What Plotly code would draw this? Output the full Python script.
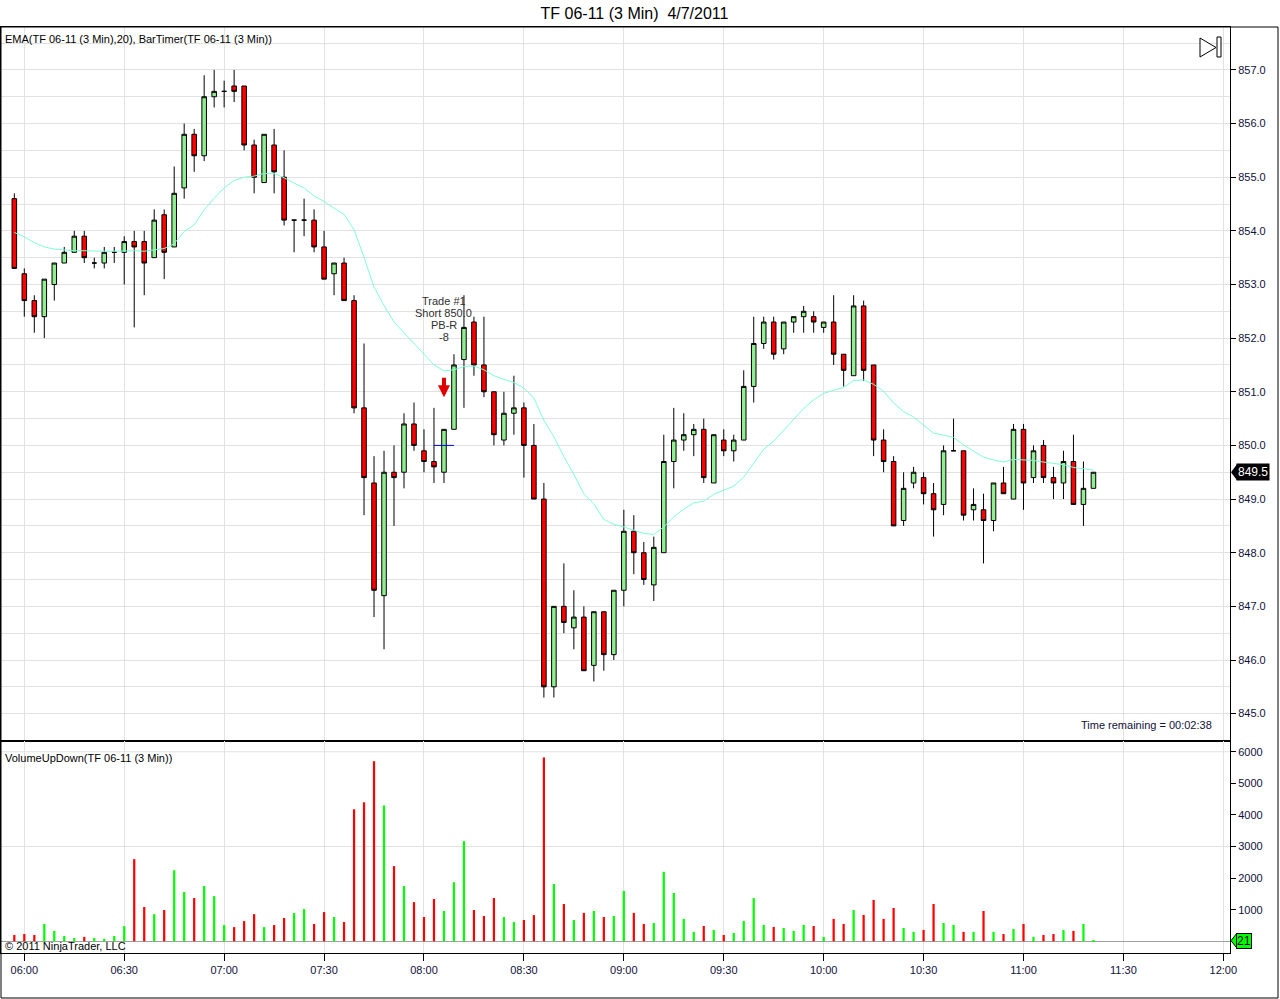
import pandas as pd
import plotly.graph_objects as go

title = 'TF 06-11 (3 Min)  4/7/2011'
first_bar = '2011-04-07 05:57'

# 3 min bars
open_ = [854.6, 853.2, 852.7, 852.4, 853.0, 853.4, 853.6, 853.9, 853.4, 853.4,
         853.6, 853.6, 853.8, 853.8, 853.5, 854.3, 853.7, 854.8, 855.8, 855.4,
         856.5, 856.6, 856.7, 856.7, 855.6, 854.9, 855.6, 855.0, 854.2, 854.2,
         854.2, 853.7, 853.2, 853.4, 852.7, 850.7, 849.3, 847.2, 849.5, 849.5,
         850.4, 849.9, 849.7, 849.5, 850.3, 851.6, 852.3, 851.5, 851.0, 850.1,
         850.6, 850.7, 850.0, 849.0, 845.5, 847.0, 846.6, 846.8, 845.9, 846.9,
         846.1, 847.3, 848.4, 848.0, 847.4, 848.0, 849.7, 850.1, 850.2, 850.3,
         849.3, 850.1, 849.9, 850.1, 851.1, 851.9, 852.3, 851.8, 852.3, 852.4,
         852.4, 852.2, 852.3, 851.7, 851.3, 852.6, 851.5, 850.1, 849.7, 848.6,
         849.3, 849.4, 849.1, 848.9, 849.9, 849.9, 848.8, 848.8, 848.6, 849.3,
         849.0, 850.3, 849.4, 850.0, 849.4, 849.3, 849.7, 848.9, 849.2]
high = [854.7, 853.3, 852.8, 853.1, 853.4, 853.7, 854.0, 854.0, 853.5, 853.7,
        853.7, 853.9, 854.0, 854.0, 854.4, 854.4, 855.2, 856.0, 855.9, 856.9,
        857.0, 856.8, 857.0, 856.7, 855.7, 855.8, 855.9, 855.5, 854.2, 854.6,
        854.4, 854.0, 853.4, 853.5, 852.8, 851.9, 849.8, 849.9, 850.0, 850.6,
        850.8, 850.3, 850.7, 850.3, 851.7, 852.8, 852.4, 852.4, 851.0, 851.0,
        851.3, 850.8, 850.4, 849.3, 847.0, 847.8, 847.3, 847.0, 846.9, 846.9,
        847.3, 848.8, 848.7, 848.2, 848.3, 850.2, 850.7, 850.6, 850.4, 850.5,
        850.2, 850.3, 850.2, 851.4, 852.4, 852.4, 852.4, 852.3, 852.4, 852.6,
        852.5, 852.3, 852.8, 851.7, 852.8, 852.7, 851.5, 850.3, 849.8, 849.5,
        849.6, 849.5, 849.3, 850.0, 850.5, 849.9, 849.2, 849.1, 849.3, 849.6,
        850.4, 850.4, 850.0, 850.1, 849.6, 849.9, 850.2, 849.7, 849.5]
low = [853.3, 852.4, 852.1, 852.0, 852.7, 853.4, 853.6, 853.4, 853.3, 853.3,
       853.4, 853.0, 852.2, 852.8, 853.5, 853.1, 853.7, 854.6, 855.1, 855.3,
       856.3, 856.3, 856.4, 855.5, 854.7, 854.9, 854.7, 854.1, 853.6, 853.9,
       853.6, 853.1, 852.8, 852.7, 850.6, 848.7, 846.8, 846.2, 848.5, 849.2,
       849.9, 849.5, 849.3, 849.3, 850.3, 850.7, 851.3, 850.9, 850.0, 850.0,
       850.2, 849.4, 849.0, 845.3, 845.3, 846.5, 846.2, 845.8, 845.6, 845.8,
       846.0, 847.0, 847.6, 847.4, 847.1, 848.0, 849.2, 849.9, 849.8, 849.3,
       849.3, 849.8, 849.7, 850.1, 850.8, 851.8, 851.6, 851.7, 852.1, 852.1,
       852.1, 852.1, 851.5, 851.1, 851.3, 851.2, 849.8, 849.5, 848.5, 848.5,
       849.2, 848.9, 848.3, 848.7, 849.9, 848.6, 848.6, 847.8, 848.4, 849.1,
       849.0, 848.8, 849.3, 849.3, 849.0, 849.0, 848.9, 848.5, 849.2]
close = [853.3, 852.7, 852.4, 853.1, 853.4, 853.6, 853.9, 853.5, 853.4, 853.6,
         853.6, 853.8, 853.7, 853.4, 854.2, 853.6, 854.7, 855.8, 855.4, 856.5,
         856.6, 856.6, 856.6, 855.6, 855.0, 855.8, 855.1, 854.2, 854.2, 854.2,
         853.7, 853.1, 853.4, 852.7, 850.7, 849.4, 847.3, 849.5, 849.4, 850.4,
         850.0, 849.7, 849.6, 850.3, 851.5, 852.2, 851.5, 851.0, 850.2, 850.6,
         850.7, 850.0, 849.0, 845.5, 847.0, 846.7, 846.8, 845.8, 846.9, 846.1,
         847.3, 848.4, 848.0, 847.5, 848.1, 849.7, 850.1, 850.2, 850.3, 849.4,
         850.2, 849.9, 850.1, 851.1, 851.9, 852.3, 851.7, 852.3, 852.4, 852.5,
         852.3, 852.3, 851.7, 851.4, 852.6, 851.4, 850.1, 849.7, 848.5, 849.2,
         849.5, 849.1, 848.8, 849.9, 849.9, 848.7, 848.9, 848.6, 849.3, 849.1,
         850.3, 849.3, 849.9, 849.4, 849.3, 849.7, 848.9, 849.2, 849.5]
ema20 = [853.97, 853.89, 853.78, 853.70, 853.66, 853.64, 853.63, 853.63, 853.62, 853.62,
         853.62, 853.63, 853.63, 853.62, 853.65, 853.67, 853.76, 853.99, 854.11, 854.39,
         854.61, 854.80, 854.94, 855.00, 855.02, 855.07, 855.07, 854.99, 854.89, 854.80,
         854.65, 854.55, 854.42, 854.31, 854.02, 853.51, 852.95, 852.61, 852.30, 852.10,
         851.88, 851.68, 851.50, 851.39, 851.41, 851.47, 851.48, 851.41, 851.30, 851.23,
         851.17, 851.07, 850.88, 850.47, 850.16, 849.79, 849.46, 849.10, 848.91, 848.62,
         848.53, 848.48, 848.42, 848.36, 848.34, 848.48, 848.67, 848.81, 848.93, 848.96,
         849.09, 849.17, 849.24, 849.41, 849.66, 849.93, 850.08, 850.29, 850.49, 850.69,
         850.85, 850.97, 851.03, 851.08, 851.21, 851.22, 851.14, 851.01, 850.79, 850.63,
         850.53, 850.38, 850.23, 850.19, 850.15, 850.01, 849.89, 849.78, 849.73, 849.69,
         849.74, 849.73, 849.72, 849.69, 849.66, 849.64, 849.59, 849.56, 849.54]
volume = [200, 230, 200, 550, 330, 170, 105, 140, 105, 75,
          170, 480, 2600, 1085, 860, 990, 2250, 1560, 1370, 1750,
          1430, 515, 450, 640, 860, 450, 515, 740, 895, 1020,
          550, 925, 770, 610, 4180, 4400, 5700, 4300, 2380, 1750,
          1240, 770, 1340, 960, 1870, 3170, 990, 800, 1370, 770,
          610, 675, 830, 5820, 1815, 1180, 675, 900, 960, 770,
          800, 1595, 900, 550, 580, 2200, 1530, 710, 300, 485,
          360, 200, 265, 645, 1370, 520, 455, 420, 330, 520,
          485, 140, 710, 550, 990, 835, 1310, 710, 1055, 420,
          300, 360, 1180, 580, 520, 300, 300, 960, 300, 230,
          390, 550, 140, 200, 230, 360, 330, 550, 21]

times = pd.date_range(first_bar, periods=len(close), freq='3min')

trade_bar = 43
trade_entry = 850.0
trade_arrow_tip = 850.9
trade_text = ['Trade #1', 'Short 850.0', 'PB-R', '-8']
trade_text_y = 852.35
bar_timer = 'Time remaining = 00:02:38'

price_range = [844.49, 857.80]
vol_range = [-370, 6340]
vol_ticks = [1000, 2000, 3000, 4000, 5000, 6000]
vol_grid = [3000, 6000]
x_range = ['2011-04-07 05:53', '2011-04-07 12:02']

FONT = 'Liberation Sans, Arial, sans-serif'
GRID = '#e2e2e2'
TICKFONT = dict(family=FONT, size=11, color='#10103a')


# pixel helpers (plot area is x 1..1230, y 27..953)
def px(x):
    return (x - 1) / 1229


def py(y):
    return (953 - y) / 926


split = py(741)

vol_colors = ['#00ff00' if c >= o else '#ff0000' for o, c in zip(open_, close)]

ema_trace = go.Scatter(
    x=times, y=ema20, mode='lines',
    line=dict(color='#7fffd4', width=1),
    xaxis='x', yaxis='y', hoverinfo='skip')

candles = go.Candlestick(
    x=times, open=open_, high=high, low=low, close=close,
    increasing=dict(fillcolor='#90ee90', line=dict(color='black', width=1)),
    decreasing=dict(fillcolor='#ff0000', line=dict(color='black', width=1)),
    whiskerwidth=0,
    xaxis='x', yaxis='y')

entry_t = times[trade_bar]
entry_line = go.Scatter(
    x=[entry_t - pd.Timedelta(minutes=3), entry_t + pd.Timedelta(minutes=3)],
    y=[trade_entry, trade_entry], mode='lines',
    line=dict(color='#0000ff', width=1),
    xaxis='x', yaxis='y', hoverinfo='skip')

vol_bars = go.Bar(
    x=times, y=volume, width=40000,
    marker=dict(color=vol_colors, line=dict(width=0)),
    xaxis='x2', yaxis='y2')

annotations = [
    dict(text='EMA(TF 06-11 (3 Min),20), BarTimer(TF 06-11 (3 Min))',
         xref='paper', yref='paper', x=px(3), y=py(39),
         xanchor='left', yanchor='middle', showarrow=False,
         font=dict(family=FONT, size=11, color='black')),
    dict(text='VolumeUpDown(TF 06-11 (3 Min))',
         xref='paper', yref='paper', x=px(3), y=py(758),
         xanchor='left', yanchor='middle', showarrow=False,
         font=dict(family=FONT, size=11, color='black')),
    dict(text='© 2011 NinjaTrader, LLC',
         xref='paper', yref='paper', x=px(3), y=py(946),
         xanchor='left', yanchor='middle', showarrow=False,
         font=dict(family=FONT, size=11, color='black')),
    dict(text=bar_timer,
         xref='paper', yref='paper', x=px(1214), y=py(725),
         xanchor='right', yanchor='middle', showarrow=False,
         font=dict(family=FONT, size=11, color='#10103a')),
    dict(text='', xref='x', yref='y', x=entry_t, y=trade_arrow_tip,
         showarrow=True, ax=0, ay=-21, arrowhead=2, arrowsize=0.6,
         arrowwidth=4, arrowcolor='#e00000'),
    dict(text=f'{close[-1]:.1f}', xref='paper', yref='y',
         x=1, y=close[-1], xanchor='left', yanchor='middle', xshift=6,
         showarrow=False, bgcolor='black', borderpad=1,
         font=dict(family=FONT, size=12, color='white')),
    dict(text=f'{volume[-1]}', xref='paper', yref='y2',
         x=1, y=volume[-1], xanchor='left', yanchor='middle', xshift=6,
         showarrow=False, bgcolor='#00ff00', bordercolor='black',
         borderwidth=1, borderpad=0,
         font=dict(family=FONT, size=12, color='black')),
]
# trade label, one line every 12 px
for i, line in enumerate(trade_text):
    annotations.append(dict(
        text=line, xref='x', yref='y', x=entry_t, y=trade_text_y,
        yshift=18 - 12 * i, xanchor='center', yanchor='middle',
        showarrow=False, font=dict(family=FONT, size=11, color='#303030')))

shapes = []
for v in vol_grid:
    shapes.append(dict(type='line', xref='paper', yref='y2', x0=0, x1=1,
                       y0=v, y1=v, layer='below',
                       line=dict(color=GRID, width=1)))
# pointed ends of the right-axis price / volume labels
shapes.append(dict(
    type='path', xref='paper', yref='y',
    path=f'M {px(1231)},{close[-1]} L {px(1237)},{close[-1] + 0.15} '
         f'L {px(1237)},{close[-1] - 0.15} Z',
    fillcolor='black', line=dict(width=0)))
shapes.append(dict(
    type='path', xref='paper', yref='y2',
    path=f'M {px(1231)},{volume[-1]} L {px(1237)},{volume[-1] + 240} '
         f'L {px(1237)},{volume[-1] - 240} Z',
    fillcolor='#00ff00', line=dict(color='black', width=1)))
# bar-timer icon
shapes.append(dict(
    type='path', xref='paper', yref='paper',
    path=f'M {px(1200)},{py(38)} L {px(1200)},{py(57)} '
         f'L {px(1216)},{py(47.5)} Z',
    fillcolor='white', line=dict(color='black', width=1)))
shapes.append(dict(
    type='rect', xref='paper', yref='paper',
    x0=px(1217), x1=px(1221), y0=py(57), y1=py(37),
    fillcolor='white', line=dict(color='black', width=1)))
# outer frame
shapes.append(dict(
    type='rect', xref='paper', yref='paper',
    x0=px(1), x1=px(1278), y0=py(998), y1=1,
    line=dict(color='black', width=1)))

x_common = dict(
    type='date', range=x_range,
    tick0='2011-04-07 06:00', dtick=30 * 60 * 1000,
    showgrid=True, gridcolor=GRID, gridwidth=1,
    showline=True, linecolor='black', linewidth=1, mirror=True,
    zeroline=False)

layout = go.Layout(
    width=1280, height=999,
    margin=dict(l=1, r=50, t=27, b=46),
    paper_bgcolor='white', plot_bgcolor='white',
    showlegend=False,
    boxgap=0.35,
    font=dict(family=FONT, size=11, color='black'),
    title=dict(text=title, x=634.5 / 1280, xref='container', xanchor='center',
               y=1 - 13 / 999, yref='container', yanchor='middle',
               font=dict(family=FONT, size=16, color='black')),
    xaxis=dict(
        x_common, anchor='y', matches='x2', showticklabels=False, ticks='',
        rangeslider=dict(visible=False)),
    xaxis2=dict(
        x_common, anchor='y2', tickformat='%H:%M', ticks='outside',
        ticklen=7, tickcolor='black', tickfont=TICKFONT),
    yaxis=dict(
        domain=[split, 1], anchor='x', side='right', range=price_range,
        tick0=845, dtick=1, tickformat='.1f', ticks='outside', ticklen=5,
        tickcolor='black', tickfont=TICKFONT,
        showgrid=True, gridcolor=GRID,
        minor=dict(dtick=0.5, showgrid=True, gridcolor=GRID),
        showline=True, linecolor='black', linewidth=1, mirror=True,
        zeroline=False),
    yaxis2=dict(
        domain=[0, split], anchor='x2', side='right', range=vol_range,
        tickvals=vol_ticks, ticks='outside', ticklen=5, tickcolor='black',
        tickfont=TICKFONT, showgrid=False,
        zeroline=True, zerolinecolor='#a0a0a0', zerolinewidth=1,
        showline=True, linecolor='black', linewidth=1, mirror=True),
    annotations=annotations,
    shapes=shapes,
)

fig = go.Figure(data=[ema_trace, candles, entry_line, vol_bars], layout=layout)
# the page body keeps no margin, so the figure sits at the window corner
fig.write_html('out.html', config={'displayModeBar': False},
               post_script="document.body.style.margin='0';")
